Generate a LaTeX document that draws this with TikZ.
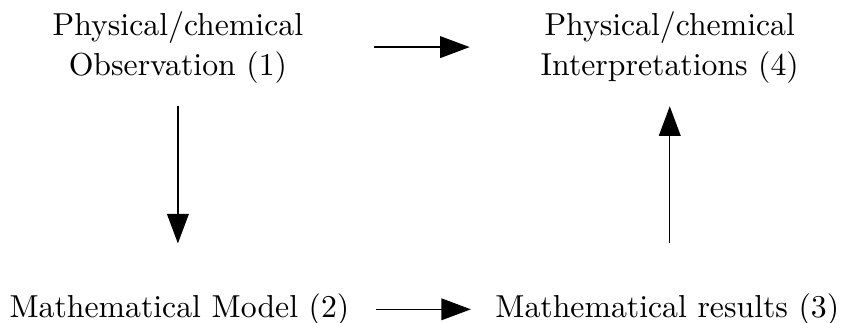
\documentclass[tikz,border=0pt]{standalone}
\usetikzlibrary{arrows.meta}

\tikzset{
  stage/.style={align=center,font=\fontsize{10.25pt}{12.9pt}\selectfont},
  flow/.style={-{Triangle[length=9.5pt,width=7pt]}}
}

\begin{document}
\begin{tikzpicture}
\useasboundingbox (0,0) rectangle (272pt,104.2pt);

\node[stage] (obs) at (57.4pt,89pt) {Physical/chemical\\Observation (1)};
\node[stage] (interp) at (216.1pt,89pt) {Physical/chemical\\Interpretations (4)};
\node[stage] (model) at (57.9pt,4.4pt) {Mathematical Model (2)};
\node[stage] (results) at (215.3pt,4.4pt) {Mathematical results (3)};

\draw[flow,shorten <=19.4pt,shorten >=19.4pt] (obs) -- (interp);
\draw[flow,shorten <=4pt,shorten >=12.6pt] (obs.south) -- (obs.south |- model.north);
\draw[flow,shorten <=5pt,shorten >=4.4pt] (model) -- (results);
\draw[flow,shorten <=12.6pt,shorten >=4pt] (interp.south |- results.north) -- (interp.south);
\end{tikzpicture}
\end{document}
